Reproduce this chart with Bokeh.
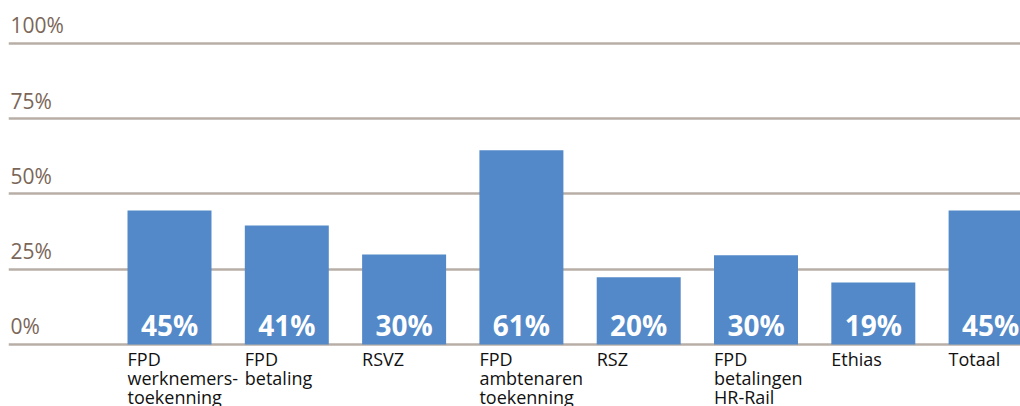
from bokeh.plotting import figure
from bokeh.models import ColumnDataSource, FixedTicker, Range1d
from bokeh.core.properties import value
from bokeh.embed import file_html
from bokeh.resources import INLINE

categories = ["FPD\nwerknemers-\ntoekenning", "FPD\nbetaling", "RSVZ",
              "FPD\nambtenaren\ntoekenning", "RSZ", "FPD\nbetalingen\nHR-Rail",
              "Ethias", "Totaal"]
bar_heights = [44.5, 39.5, 29.9, 64.5, 22.3, 29.6, 20.6, 44.5]
value_labels = [45, 41, 30, 61, 20, 30, 19, 45]
tick_values = [0, 25, 50, 75, 100]
tick_labels = ["0%", "25%", "50%", "75%", "100%"]

x = list(range(len(categories)))
bar_w = 0.716
x_start = -1.3726
x_end = x_start + 1012 / 117.3

src = ColumnDataSource(dict(
    x=x, top=bar_heights, left=[xi - bar_w / 2 for xi in x],
    lab=[f"{v}%" for v in value_labels]))

p = figure(width=1020, height=406, output_backend="svg", toolbar_location=None,
           x_range=Range1d(x_start, x_end), y_range=Range1d(-20.6, 111.6),
           min_border_left=8, min_border_right=0, min_border_top=8, min_border_bottom=0)
p.axis.visible = False
p.xgrid.visible = False
p.outline_line_color = None
p.ygrid.ticker = FixedTicker(ticks=tick_values)
p.ygrid.grid_line_color = "#b9aea6"
p.ygrid.grid_line_width = 2.5
p.background_fill_color = "white"
p.border_fill_color = "white"

p.vbar(x="x", top="top", bottom=0, width=bar_w, source=src,
       fill_color="#5389c8", line_color=None)

p.text(x="x", y=0, text="lab", source=src, text_align="center",
       text_baseline="alphabetic", y_offset=-19,
       text_font=value("Open Sans"), text_font_style="bold",
       text_font_size="28px", text_color="white")

# category labels, one text glyph row per line
lx, ly, lt, lo = [], [], [], []
for xi, cat in zip(x, categories):
    for j, line in enumerate(cat.split("\n")):
        lx.append(xi - bar_w / 2)
        ly.append(0)
        lt.append(line)
        lo.append(3 + 19 * j)
csrc = ColumnDataSource(dict(x=lx, y=ly, t=lt, o=lo))
p.text(x="x", y="y", text="t", source=csrc, text_align="left",
       text_baseline="top", y_offset="o",
       text_font=value("Open Sans"), text_font_size="18px", text_color="#111111")

tsrc = ColumnDataSource(dict(x=[x_start] * len(tick_values), y=tick_values, t=tick_labels))
p.text(x="x", y="y", text="t", source=tsrc, text_align="left",
       text_baseline="alphabetic", x_offset=2, y_offset=-18,
       text_font=value("Open Sans"), text_font_size="21px", text_color="#7a6658")

open("out.html", "w").write(file_html(p, INLINE))
